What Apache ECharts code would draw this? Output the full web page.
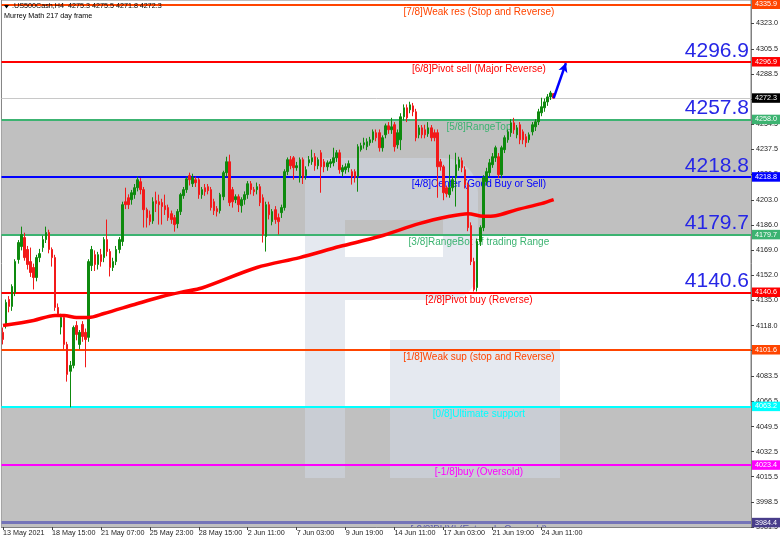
<!DOCTYPE html>
<html><head><meta charset="utf-8">
<script src="https://cdn.jsdelivr.net/npm/echarts@6/dist/echarts.min.js"></script>
<style>html,body{margin:0;padding:0;background:#fff}#c{width:782px;height:546px}</style>
</head><body><div id="c"></div>
<script>
const symbolName = '.US500Cash,H4';
const indicatorName = 'Murrey Math 217 day frame';
const tickLabels = ['13 May 2021','18 May 15:00','21 May 07:00','25 May 23:00','28 May 15:00','2 Jun 11:00','7 Jun 03:00','9 Jun 19:00','14 Jun 11:00','17 Jun 03:00','21 Jun 19:00','24 Jun 11:00'];
const barsPerTick = 16;
const slotCount = 245;
// [open, close, low, high]
const candles = [
[4113.4,4108.6,4105.2,4116.7],[4118.0,4133.7,4116.0,4135.7],[4135.7,4131.0,4127.0,4138.0],[4131.0,4144.5,4128.0,4146.0],
[4140.4,4161.4,4138.0,4163.0],[4162.8,4174.3,4160.0,4176.0],[4171.6,4179.7,4169.0,4185.1],[4177.7,4164.1,4162.0,4181.0],
[4169.6,4159.4,4156.0,4172.0],[4161.4,4154.0,4151.0,4170.9],[4157.4,4150.6,4142.5,4160.0],[4150.6,4164.1,4148.0,4166.0],
[4164.1,4166.8,4161.0,4170.0],[4170.9,4176.3,4168.0,4179.0],[4176.3,4181.1,4174.0,4185.1],[4181.1,4169.6,4167.0,4183.0],
[4169.6,4164.1,4158.0,4171.0],[4164.1,4130.3,4128.0,4166.0],[4130.3,4126.0,4124.0,4133.0],[4117.0,4123.5,4112.0,4126.0],
[4123.5,4105.2,4102.0,4125.0],[4105.2,4084.9,4080.0,4107.0],[4087.0,4091.0,4062.6,4094.0],[4091.0,4116.7,4089.0,4118.0],
[4118.1,4112.0,4108.0,4121.0],[4105.2,4113.4,4102.0,4115.0],[4118.8,4110.6,4107.0,4121.0],[4113.4,4108.6,4089.7,4116.0],
[4110.0,4161.4,4107.0,4163.0],[4158.7,4169.6,4155.0,4172.0],[4166.1,4159.4,4155.0,4169.0],[4159.4,4166.1,4156.0,4168.0],
[4166.1,4161.4,4158.0,4170.0],[4164.1,4176.3,4161.0,4178.0],[4176.3,4168.2,4165.0,4189.9],[4168.2,4157.4,4151.3,4170.0],
[4157.4,4161.4,4155.0,4164.0],[4161.4,4169.6,4159.0,4172.0],[4169.6,4176.3,4167.0,4178.0],[4175.0,4200.0,4172.0,4202.0],
[4202.0,4200.0,4197.0,4211.5],[4204.7,4200.0,4197.0,4207.0],[4203.4,4208.1,4200.0,4210.0],[4206.8,4211.5,4204.0,4214.0],
[4211.5,4216.9,4209.0,4219.0],[4215.6,4210.2,4207.0,4218.0],[4210.2,4196.6,4184.5,4212.0],[4196.6,4191.2,4184.5,4198.0],
[4193.2,4188.5,4186.0,4196.0],[4189.0,4202.0,4187.0,4205.0],[4202.7,4200.7,4195.0,4208.8],[4202.0,4200.0,4186.5,4206.8],
[4201.4,4198.7,4186.5,4204.0],[4199.3,4196.6,4193.0,4206.8],[4198.0,4191.2,4189.0,4200.0],[4193.9,4189.9,4187.0,4196.0],
[4191.2,4186.5,4181.7,4193.0],[4187.1,4195.3,4184.0,4197.0],[4195.3,4206.8,4193.0,4208.0],[4206.1,4210.2,4204.0,4212.0],
[4210.2,4217.5,4208.0,4219.0],[4219.7,4216.9,4213.0,4221.7],[4214.2,4218.3,4212.0,4221.0],[4216.9,4214.9,4212.0,4219.0],
[4216.9,4206.8,4204.0,4218.0],[4206.8,4210.2,4204.0,4212.0],[4211.5,4208.8,4206.0,4214.0],[4212.2,4209.5,4207.0,4214.0],
[4210.2,4198.0,4196.0,4212.0],[4202.0,4195.9,4193.0,4204.0],[4197.3,4195.3,4192.0,4199.0],[4196.0,4206.8,4194.0,4208.0],
[4205.4,4221.7,4203.0,4223.0],[4221.7,4229.1,4219.0,4232.5],[4229.1,4201.4,4199.0,4233.9],[4210.2,4202.0,4198.0,4212.0],
[4203.4,4205.4,4201.0,4207.0],[4205.4,4200.0,4195.0,4207.0],[4199.3,4203.4,4194.6,4205.0],[4203.4,4206.8,4200.0,4209.0],
[4206.8,4214.2,4204.0,4216.0],[4214.2,4210.2,4207.0,4216.0],[4210.2,4208.8,4206.0,4212.0],[4210.2,4212.2,4207.0,4215.0],
[4212.2,4201.4,4199.0,4214.0],[4204.7,4179.7,4174.3,4207.0],[4178.4,4200.0,4168.2,4202.0],[4200.0,4193.2,4190.0,4202.0],
[4188.5,4195.3,4186.0,4197.0],[4196.6,4189.9,4187.0,4199.0],[4191.2,4188.5,4179.7,4194.0],[4194.6,4198.0,4191.0,4200.0],
[4198.0,4222.4,4196.0,4224.0],[4222.4,4230.5,4220.0,4232.0],[4230.5,4226.4,4224.0,4233.0],[4231.8,4225.1,4217.0,4233.0],
[4225.1,4226.4,4223.0,4229.0],[4218.3,4230.5,4215.0,4232.0],[4230.5,4218.3,4214.0,4232.0],[4219.7,4223.7,4217.0,4226.0],
[4228.4,4230.5,4226.0,4233.0],[4229.1,4231.8,4227.0,4237.3],[4232.5,4226.4,4223.0,4235.0],[4226.4,4230.5,4224.0,4232.0],
[4235.2,4225.7,4208.1,4237.0],[4229.1,4225.7,4222.0,4231.0],[4225.7,4228.4,4223.0,4230.0],[4227.8,4229.1,4225.0,4231.0],
[4228.4,4231.8,4226.0,4238.6],[4231.8,4235.2,4229.0,4237.0],[4235.2,4223.7,4221.0,4237.3],[4222.4,4225.1,4219.0,4227.0],
[4223.7,4225.7,4221.0,4228.0],[4225.1,4227.8,4222.0,4230.0],[4222.4,4219.0,4213.6,4224.0],[4222.4,4218.3,4215.0,4224.0],
[4219.0,4239.3,4208.8,4241.0],[4237.3,4240.0,4236.0,4242.0],[4240.6,4242.0,4238.0,4245.4],[4239.3,4242.7,4237.0,4245.0],
[4242.0,4244.0,4240.0,4246.0],[4244.0,4249.4,4242.0,4251.0],[4248.8,4245.4,4243.0,4251.0],[4248.8,4238.6,4236.0,4251.0],
[4238.6,4245.4,4236.0,4247.0],[4247.4,4253.5,4245.0,4255.0],[4253.5,4250.8,4248.0,4256.0],[4250.8,4252.8,4248.0,4258.9],
[4254.2,4239.3,4236.0,4256.0],[4240.6,4248.8,4238.0,4251.0],[4244.0,4259.6,4237.0,4262.0],[4259.6,4265.7,4257.0,4268.0],
[4265.7,4258.9,4256.0,4268.0],[4264.3,4267.7,4262.0,4269.8],[4267.0,4263.0,4260.0,4269.0],[4263.0,4245.4,4243.0,4265.0],
[4247.4,4252.1,4245.0,4254.0],[4252.1,4247.4,4245.0,4254.0],[4250.8,4247.4,4245.0,4254.2],[4248.1,4252.1,4246.0,4256.0],
[4252.1,4245.4,4243.0,4254.0],[4248.8,4245.4,4243.0,4251.0],[4248.8,4225.7,4204.7,4251.0],[4229.1,4225.7,4223.0,4231.0],
[4225.7,4208.1,4203.0,4227.0],[4211.5,4207.4,4205.0,4213.0],[4206.8,4211.5,4204.7,4233.9],[4211.5,4216.9,4209.0,4219.0],
[4218.3,4227.1,4198.7,4235.2],[4225.1,4230.5,4223.0,4232.5],[4229.8,4225.1,4222.0,4232.0],[4223.7,4213.6,4211.0,4226.0],
[4213.6,4184.4,4182.0,4215.0],[4185.8,4161.4,4159.0,4188.0],[4161.4,4142.5,4141.1,4164.0],[4143.8,4175.0,4141.1,4177.0],
[4175.0,4184.4,4172.0,4186.0],[4184.4,4218.3,4182.0,4220.0],[4215.6,4222.4,4213.0,4225.0],[4221.7,4228.4,4219.0,4231.0],
[4227.1,4232.5,4225.0,4235.0],[4231.8,4238.6,4229.0,4240.0],[4232.5,4220.3,4218.0,4235.0],[4220.3,4238.6,4218.0,4240.0],
[4237.3,4245.4,4235.0,4247.0],[4244.0,4249.4,4242.0,4251.0],[4248.8,4255.5,4246.0,4258.0],[4255.5,4250.8,4248.0,4258.9],
[4247.4,4252.1,4245.0,4254.0],[4254.2,4244.0,4241.0,4256.0],[4249.4,4244.0,4241.0,4251.0],[4246.1,4242.0,4239.0,4248.0],
[4244.0,4247.4,4242.0,4249.0],[4249.4,4254.2,4247.0,4256.0],[4252.8,4256.2,4250.0,4258.0],[4256.2,4263.0,4254.0,4265.0],
[4262.3,4266.4,4260.0,4272.5],[4265.7,4269.7,4263.0,4272.0],[4269.7,4273.1,4267.0,4275.0],[4273.1,4275.8,4271.0,4277.2],
[4275.3,4272.3,4271.8,4275.5]
];
// moving average points [bar index, value]
const maPoints = [[0,4118.1],[10,4121.5],[17,4124.9],[20,4124.9],[24,4123.5],[28,4123.5],[33,4126.2],[43,4132.3],[52,4137.7],[59,4141.0],[65,4143.5],[83,4157.4],[97,4164.1],[110,4171.6],[123,4178.4],[136,4187.1],[146,4192.1],[152,4193.9],[157,4192.1],[161,4192.5],[168,4196.6],[176,4200.7],[180,4203.4]];
const levels = [4335.9,4296.9,4257.8,4218.8,4179.7,4140.6,4101.6,4063.2,4023.4,3984.4];
const levelTags = [4335.9,4296.9,4258.0,4218.8,4179.7,4140.6,4101.6,4063.2,4023.4,3984.4];
const levelNames = ['[7/8]Weak res (Stop and Reverse)','[6/8]Pivot sell (Major Reverse)','[5/8]RangeTop','[4/8]Center (Good Buy or Sell)','[3/8]RangeBot of trading Range','[2/8]Pivot buy (Reverse)','[1/8]Weak sup (stop and Reverse)','[0/8]Ultimate support','[-1/8]buy (Oversold)','[-2/8]BUY| (Extremly Oversold)'];
const bigLevels = [4296.9,4257.8,4218.8,4179.7,4140.6];
const rangeBands = [[4179.7,4257.8],[3981.4,4063.2]];
const lastPrice = 4272.3;
const arrowFrom = [180, 4272.3];
const arrowTo = [184, 4296.0];
const yTicks = [4323.0,4305.5,4288.5,4271.5,4254.5,4237.5,4220.5,4203.0,4186.0,4169.0,4152.0,4135.0,4118.0,4101.0,4083.5,4066.5,4049.5,4032.5,4015.5,3998.5,3981.5];
const yMin = 3981.4, yMax = 4338.8;

// styles
const lineColors = ['#ff4500','#ff0000','#3cb371','#0000ff','#3cb371','#ff0000','#ff4500','#00ffff','#ff00ff','#7474b8'];
const textColors = ['#ff4500','#ff0000','#3cb371','#0000ff','#3cb371','#ff0000','#ff4500','#00ffff','#ff00ff','#5a5aa8'];
const tagColors = ['#ff4500','#ff0000','#3cb371','#0000ff','#3cb371','#ff0000','#ff4500','#00ffff','#ff00ff','#483d8b'];
const lineWidths = [2,2,2,2,2,2,2,2,2,3];
const FONT = '"Liberation Sans", Arial, sans-serif';

const categories = Array.from({length: slotCount}, (_, i) =>
  (i % barsPerTick === 0 && tickLabels[i / barsPerTick]) ? tickLabels[i / barsPerTick] : String(i));
const isTick = (i) => i % barsPerTick === 0 && i / barsPerTick < tickLabels.length;

const chart = echarts.init(document.getElementById('c'), null, {renderer: 'canvas'});
const last = candles[candles.length - 1];
const titleText = symbolName + '  ' + [last[0], last[3], last[2], last[1]].map(v => v.toFixed(1)).join(' ');
const wm = 'rgba(208,215,228,0.55)';
const wmRect = (x, y, w, h, r) => ({type: 'rect', z: 2, silent: true, shape: {x, y, width: w, height: h, r: r || 0}, style: {fill: wm}});

const option = {
  animation: false,
  backgroundColor: '#ffffff',
  grid: {left: 0, right: 31, top: 0, bottom: 19, show: true, borderColor: '#808080', borderWidth: 1, backgroundColor: 'transparent'},
  xAxis: {
    type: 'category', data: categories, boundaryGap: true,
    axisLine: {show: true, lineStyle: {color: '#808080'}},
    axisTick: {show: true, alignWithLabel: true, interval: (i) => isTick(i), length: 3, lineStyle: {color: '#444'}},
    axisLabel: {interval: (i) => isTick(i), align: 'left', margin: 3, fontSize: 7.2, color: '#222', fontFamily: FONT},
    splitLine: {show: false}
  },
  yAxis: {
    type: 'value', position: 'right', min: yMin, max: yMax,
    axisLine: {show: true, lineStyle: {color: '#808080'}},
    axisTick: {show: true, customValues: yTicks, length: 3, lineStyle: {color: '#444'}},
    axisLabel: {customValues: yTicks, formatter: (v) => Number(v).toFixed(1), fontSize: 7.2, color: '#222', margin: 5, fontFamily: FONT},
    splitLine: {show: false}
  },
  graphic: [
    wmRect(305, 158, 40, 320),
    wmRect(345, 158, 133, 62, [0, 34, 0, 0]),
    wmRect(443, 220, 35, 80, [0, 0, 30, 0]),
    wmRect(345, 257, 98, 43),
    wmRect(390, 340, 170, 138),
    {type: 'polygon', z: 10, silent: true, shape: {points: [[4, 5], [9, 5], [6.5, 8.5]]}, style: {fill: '#000'}},
    {type: 'text', z: 10, silent: true, x: 12, y: 3, style: {text: titleText, font: '7.2px ' + FONT, fill: '#000'}},
    {type: 'text', z: 10, silent: true, x: 4, y: 13, style: {text: indicatorName, font: '7.2px ' + FONT, fill: '#000'}}
  ],
  series: [
    {
      name: 'bands', type: 'line', data: [], silent: true, z: 1,
      markArea: {silent: true, z: 1, itemStyle: {color: '#c0c0c0'}, data: rangeBands.map(b => [{yAxis: b[0]}, {yAxis: b[1]}])}
    },
    {
      name: 'levelText', type: 'custom', z: 3, silent: true,
      data: levels.map((v, i) => [i, v]),
      renderItem: (params, api) => {
        const i = api.value(0), v = api.value(1);
        const cs = params.coordSys;
        const y = api.coord([0, v])[1];
        const children = [{type: 'text', x: cs.x + cs.width * 0.637, y: y + 7.5,
          style: {text: levelNames[i], fill: textColors[i], font: '10px ' + FONT, align: 'center', verticalAlign: 'middle'}}];
        if (bigLevels.indexOf(v) >= 0) {
          children.push({type: 'text', x: cs.x + cs.width - 2, y: y - 0.5,
            style: {text: v.toFixed(1), fill: '#2626e6', font: '21px ' + FONT, align: 'right', verticalAlign: 'bottom'}});
        }
        return {type: 'group', children, clipPath: {type: 'rect', shape: {x: cs.x, y: cs.y, width: cs.width, height: cs.height}}};
      }
    },
    {
      name: 'levels', type: 'line', data: [], silent: true, z: 4,
      markLine: {
        silent: true, z: 4, symbol: ['none', 'none'], precision: 1,
        label: {show: true, position: 'end', distance: 1, color: '#fff', fontSize: 7.2, fontFamily: FONT, padding: [1.5, 3, 1, 3]},
        data: levels.map((v, i) => ({
          yAxis: v,
          lineStyle: {color: lineColors[i], width: lineWidths[i], type: 'solid'},
          label: {formatter: levelTags[i].toFixed(1), backgroundColor: tagColors[i]}
        })).concat([{yAxis: lastPrice, lineStyle: {color: '#c8c8c8', width: 1, type: 'solid'},
          label: {formatter: lastPrice.toFixed(1), backgroundColor: '#000'}}])
      }
    },
    {
      name: 'price', type: 'candlestick', z: 6, data: candles, barWidth: 2,
      itemStyle: {color: '#0e8a0e', color0: '#f21a1a', borderColor: '#0e8a0e', borderColor0: '#f21a1a', borderWidth: 1}
    },
    {
      name: 'ma', type: 'line', z: 7, data: maPoints, showSymbol: false, symbol: 'none', smooth: 0.3,
      lineStyle: {color: '#ff0000', width: 3.5}
    },
    {
      name: 'arrow', type: 'line', z: 8, data: [],
      markLine: {silent: true, z: 8, symbol: ['none', 'arrow'], symbolSize: [7, 9], label: {show: false},
        lineStyle: {color: '#0000ff', width: 2.5, type: 'solid'},
        data: [[{coord: arrowFrom}, {coord: arrowTo}]]}
    }
  ]
};
chart.setOption(option);
</script>
</body></html>
